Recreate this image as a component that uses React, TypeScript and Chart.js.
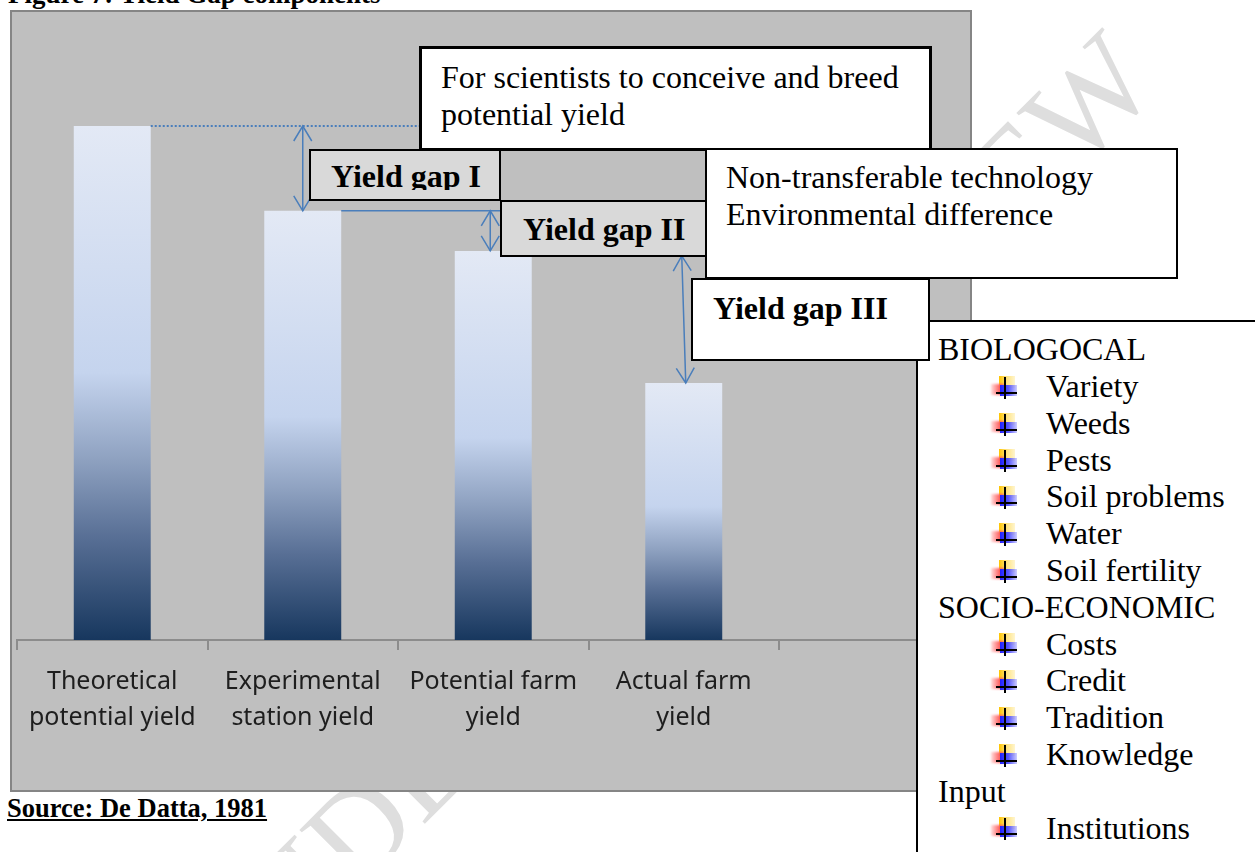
import React, { useEffect, useRef } from 'react';
import { Chart, registerables } from 'chart.js';
Chart.register(...registerables);

// ---- data ----
const categories: (string | string[])[] = [
  ['Theoretical', 'potential yield'],
  ['Experimental', 'station yield'],
  ['Potential farm', 'yield'],
  ['Actual farm', 'yield'],
  '',
];
const yieldValues: (number | null)[] = [10, 8.35, 7.57, 5.0, null];
const yMax = 12;
const biologicalItems = ['Variety', 'Weeds', 'Pests', 'Soil problems', 'Water', 'Soil fertility'];
const socioEconomicItems = ['Costs', 'Credit', 'Tradition', 'Knowledge'];
const inputItems = ['Institutions'];
const scientistsText = ['For scientists to conceive and breed', 'potential yield'];
const transferText = ['Non-transferable technology', 'Environmental difference'];
const gapLabels = ['Yield gap I', 'Yield gap II', 'Yield gap III'];

const serif = "'Liberation Serif','Times New Roman',serif";
const LINE_BLUE = '#4A7EBB';

function barGradient(ctx: any) {
  const chart = ctx.chart;
  if (!chart.chartArea || ctx.raw == null) return '#C6D4EE';
  const y = chart.scales.y;
  const top = y.getPixelForValue(ctx.raw);
  const bottom = y.getPixelForValue(0);
  const g = chart.ctx.createLinearGradient(0, top, 0, bottom);
  g.addColorStop(0, '#E3E9F5');
  g.addColorStop(0.48, '#C5D4EE');
  g.addColorStop(0.65, '#8EA1C0');
  g.addColorStop(0.8, '#586F95');
  g.addColorStop(1, '#17375E');
  return g;
}

function drawArrow(c: CanvasRenderingContext2D, x1: number, y1: number, x2: number, y2: number) {
  const hw = 9, hl = 15;
  c.beginPath();
  c.moveTo(x1, y1);
  c.lineTo(x2, y2);
  c.stroke();
  const ang = Math.atan2(y2 - y1, x2 - x1);
  const head = (tx: number, ty: number, a: number) => {
    const bx = tx - Math.cos(a) * hl, by = ty - Math.sin(a) * hl;
    const px = -Math.sin(a) * hw, py = Math.cos(a) * hw;
    c.beginPath();
    c.moveTo(bx + px, by + py);
    c.lineTo(tx, ty);
    c.lineTo(bx - px, by - py);
    c.stroke();
  };
  head(x2, y2, ang);
  head(x1, y1, ang + Math.PI);
}

const gapPlugin = {
  id: 'yieldGaps',
  afterDatasetsDraw(chart: any) {
    const c: CanvasRenderingContext2D = chart.ctx;
    const y = chart.scales.y;
    const bars = chart.getDatasetMeta(0).data;
    const top = (i: number) => y.getPixelForValue(yieldValues[i] as number);
    const cx = (i: number) => bars[i].x;
    const hw = (i: number) => bars[i].width / 2;
    c.save();
    c.strokeStyle = LINE_BLUE;
    // dotted reference line at theoretical yield
    c.lineWidth = 2;
    c.setLineDash([2, 2]);
    c.beginPath();
    c.moveTo(cx(0) + hw(0), top(0));
    c.lineTo(cx(2), top(0));
    c.stroke();
    c.setLineDash([]);
    c.lineWidth = 1.5;
    // solid reference line at experimental yield
    c.beginPath();
    c.moveTo(cx(1) + hw(1), top(1));
    c.lineTo(cx(2) + hw(2), top(1));
    c.stroke();
    drawArrow(c, cx(1), top(0), cx(1), top(1));
    drawArrow(c, cx(2) - 3, top(1), cx(2) - 3, top(2));
    drawArrow(c, cx(3) - 2, top(2) + 5, cx(3) + 2, top(3));
    c.restore();
  },
};

function Txt(props: any) {
  const { x, base, size = 32, bold = false, children, color = '#000', underline = false } = props;
  const top = base - (size - size * 1.107) / 2 - size * 0.891;
  return (
    <div
      style={{
        position: 'absolute',
        left: x,
        top,
        fontFamily: serif,
        fontSize: size,
        lineHeight: size + 'px',
        fontWeight: bold ? 700 : 400,
        whiteSpace: 'nowrap',
        color,
        textDecoration: underline ? 'underline' : 'none',
      }}
    >
      {children}
    </div>
  );
}

function Box(props: any) {
  const { l, t, r, b, fill = '#fff', bw = 2, children } = props;
  return (
    <div
      style={{
        position: 'absolute',
        left: l,
        top: t,
        width: r - l,
        height: b - t,
        boxSizing: 'border-box',
        border: `${bw}px solid #000`,
        background: fill,
        overflow: 'hidden',
      }}
    >
      {children}
    </div>
  );
}

function Bullet(props: any) {
  const { x, y } = props;
  return (
    <div style={{ position: 'absolute', left: x, top: y, width: 27, height: 23 }}>
      <div style={{ position: 'absolute', left: 8, top: 0, width: 16, height: 12, background: 'linear-gradient(90deg,#FFC400 0%,#FFE27A 45%,#FFF5CF 100%)' }} />
      <div style={{ position: 'absolute', left: 0, top: 8, width: 13, height: 11, background: 'linear-gradient(90deg,rgba(255,120,120,0.25),#FF5A5A 70%)', filter: 'blur(1px)' }} />
      <div style={{ position: 'absolute', left: 9, top: 9, width: 17, height: 11, background: 'linear-gradient(90deg,#1E1EFF 0%,#5A5AFF 50%,rgba(170,170,255,0.6) 100%)', filter: 'blur(0.6px)' }} />
      <div style={{ position: 'absolute', left: 13, top: 1, width: 2, height: 22, background: '#000' }} />
      <div style={{ position: 'absolute', left: 5, top: 16, width: 21, height: 2, background: '#000' }} />
    </div>
  );
}

export default function App() {
  const ref = useRef<HTMLCanvasElement | null>(null);

  useEffect(() => {
    if (!ref.current) return;
    const chart = new Chart(ref.current, {
      type: 'bar',
      data: {
        labels: categories as any,
        datasets: [
          {
            data: yieldValues as any,
            backgroundColor: barGradient as any,
            borderWidth: 0,
            barPercentage: 0.404,
            categoryPercentage: 1,
          },
        ],
      },
      options: {
        responsive: false,
        maintainAspectRatio: false,
        animation: false,
        layout: { padding: { left: 5, right: 0.5, top: 11.2, bottom: 0 } },
        plugins: { legend: { display: false }, tooltip: { enabled: false }, title: { display: false } },
        scales: {
          x: {
            grid: { display: true, drawOnChartArea: false, drawTicks: true, tickLength: 10, color: '#8C8C8C', lineWidth: 2, offset: true },
            border: { display: true, color: '#8C8C8C', width: 2 },
            ticks: {
              color: '#1E1E1E',
              font: { family: "'Noto Sans','Open Sans',sans-serif", size: 25, lineHeight: 1.44 },
              padding: 14,
              maxRotation: 0,
              minRotation: 0,
              autoSkip: false,
            },
            afterFit: (s: any) => {
              s.height = 150;
            },
          },
          y: { display: false, min: 0, max: yMax },
        },
      },
      plugins: [gapPlugin],
    });
    return () => chart.destroy();
  }, []);

  const listLines: { text: string; item: boolean }[] = [
    { text: 'BIOLOGOCAL', item: false },
    ...biologicalItems.map((t) => ({ text: t, item: true })),
    { text: 'SOCIO-ECONOMIC', item: false },
    ...socioEconomicItems.map((t) => ({ text: t, item: true })),
    { text: 'Input', item: false },
    ...inputItems.map((t) => ({ text: t, item: true })),
  ];

  return (
    <div style={{ position: 'fixed', left: 0, top: 0, width: 1255, height: 852, overflow: 'hidden', background: '#fff' }}>
      {/* watermark */}
      <div
        style={{
          position: 'absolute',
          left: 663 - 800,
          top: 525 - 70,
          width: 1600,
          height: 140,
          textAlign: 'center',
          fontFamily: serif,
          fontSize: 129,
          lineHeight: '140px',
          color: '#DEDEDE',
          transform: 'rotate(-45deg)',
          whiteSpace: 'nowrap',
        }}
      >
        UNDER PEER REVIEW
      </div>

      {/* title (cut at top) */}
      <Txt x={8} base={4} size={27} bold>
        Figure 7: Yield Gap components
      </Txt>

      {/* chart frame */}
      <div
        style={{
          position: 'absolute',
          left: 10,
          top: 10,
          width: 962,
          height: 782,
          boxSizing: 'border-box',
          border: '2px solid #858585',
          background: '#BFBFBF',
        }}
      >
        <canvas ref={ref} width={958} height={778} style={{ position: 'absolute', left: 0, top: 0, width: 958, height: 778 }} />
      </div>

      <Txt x={7} base={817} size={26.5} bold underline>
        Source: De Datta, 1981
      </Txt>

      {/* scientists box */}
      <Box l={419} t={46} r={932} b={151} bw={3} />
      {scientistsText.map((s, i) => (
        <Txt key={s} x={441} base={88 + i * 37}>
          {s}
        </Txt>
      ))}

      {/* non-transferable box */}
      <Box l={705} t={148} r={1178} b={279} />
      {transferText.map((s, i) => (
        <Txt key={s} x={726} base={188 + i * 37}>
          {s}
        </Txt>
      ))}

      {/* right panel */}
      <div
        style={{
          position: 'absolute',
          left: 916,
          top: 320,
          width: 400,
          height: 600,
          boxSizing: 'border-box',
          borderLeft: '2px solid #000',
          borderTop: '2px solid #000',
          background: '#fff',
        }}
      />
      {listLines.map((ln, i) => {
        const base = 360 + i * 36.8;
        return ln.item ? (
          <React.Fragment key={ln.text}>
            <Bullet x={991} y={base - 21} />
            <Txt x={1046} base={base}>
              {ln.text}
            </Txt>
          </React.Fragment>
        ) : (
          <Txt key={ln.text} x={938} base={base}>
            {ln.text}
          </Txt>
        );
      })}

      {/* Yield gap I (text clipped at bottom) */}
      <Box l={309} t={149} r={501} b={201} fill="#D9D9D9" />
      <div style={{ position: 'absolute', left: 311, top: 151, width: 188, height: 39, overflow: 'hidden' }}>
        <div style={{ position: 'absolute', left: 20, top: 187 - 151 - 32 * 0.891 + (32 * 1.107 - 32) / 2, fontFamily: serif, fontSize: 32, lineHeight: '32px', fontWeight: 700, whiteSpace: 'nowrap' }}>
          {gapLabels[0]}
        </div>
      </div>

      {/* Yield gap II */}
      <Box l={500} t={200} r={707} b={257} fill="#D9D9D9" />
      <Txt x={523} base={240} bold>
        {gapLabels[1]}
      </Txt>

      {/* Yield gap III */}
      <Box l={691} t={278} r={930} b={361} />
      <Txt x={713} base={319} bold>
        {gapLabels[2]}
      </Txt>
    </div>
  );
}
